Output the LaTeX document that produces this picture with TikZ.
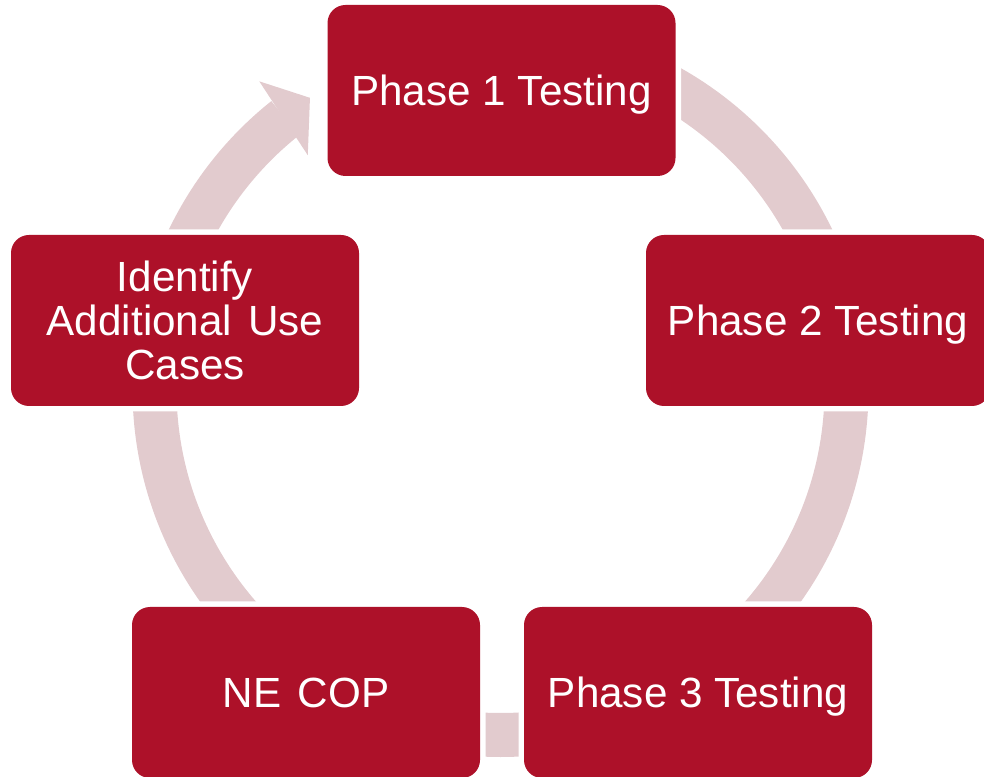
\documentclass[tikz,border=0pt]{standalone}
\usepackage{fontspec}
\setmainfont{Liberation Sans}
\usetikzlibrary{calc}
\definecolor{boxred}{HTML}{AD1129}
\definecolor{ringpink}{HTML}{E2CBCE}
\begin{document}
\begin{tikzpicture}[x=1pt,y=1pt,
  stepbox/.style={fill=boxred, rounded corners=18pt, minimum width=348pt,
    minimum height=171pt, inner sep=0pt, text=white,
    font=\fontsize{42.2}{44}\selectfont, align=center,
    preaction={draw=white, line width=11pt}},
  oneline/.style={text depth=0pt},
  ring/.style={draw=ringpink, line width=44pt}]
\useasboundingbox (0,0) rectangle (984,776);
\coordinate (c) at (500.5,387);
% circular arrow
\draw[ring] ($(c)+(90:346)$) arc[start angle=90, end angle=-231.5, radius=346];
\fill[ringpink] ($(c)+(128.1:391)$) -- ($(c)+(123.2:348)$) -- ($(c)+(129.5:303)$) -- cycle;
% steps
\node[stepbox, oneline] (p1) at (501.5,685.5) {Phase 1 Testing};
\node[stepbox, oneline, minimum width=344pt] (p2) at (818,455.5) {Phase 2 Testing};
\node[stepbox, oneline] (p3) at (698,83.5) {Phase 3 Testing};
\node[stepbox, oneline] (ne) at (306,83.5) {NE\hspace{0.12em} COP};
\node[stepbox] (id) at (185,455.5) {Identify\\Additional\hspace{0.1em} Use\\Cases};
\end{tikzpicture}
\end{document}
